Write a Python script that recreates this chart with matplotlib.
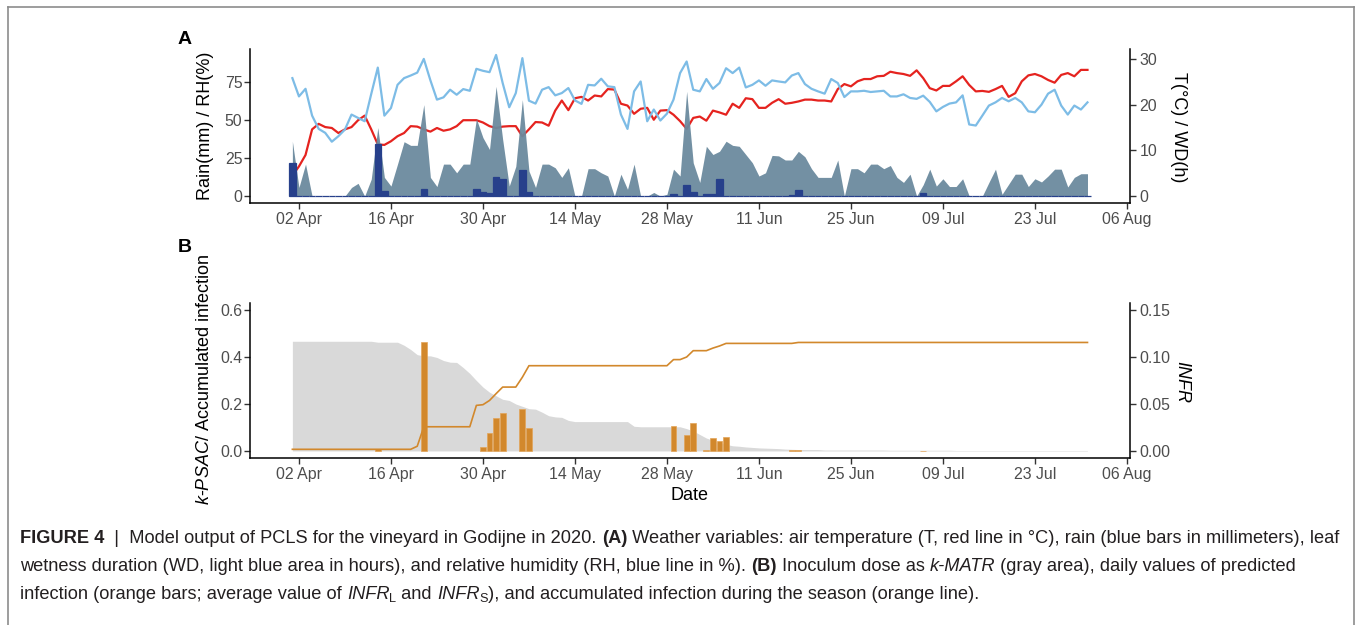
import numpy as np
import pandas as pd
import matplotlib
matplotlib.use("Agg")
import matplotlib.pyplot as plt
import matplotlib.dates as mdates
from matplotlib.lines import Line2D
from matplotlib.ticker import FixedLocator, FormatStrFormatter

plt.rcParams['font.family'] = ['Liberation Sans', 'DejaVu Sans']
plt.rcParams['mathtext.fontset'] = 'custom'
plt.rcParams['mathtext.rm'] = 'Liberation Sans'
plt.rcParams['mathtext.it'] = 'Liberation Sans:italic'
plt.rcParams['mathtext.bf'] = 'Liberation Sans:bold'

# ---------------- daily weather, Godijne 2020 (from 1 April) ----------------
rh = [77.4, 65.4, 70.4, 52.8, 44.1, 41.5, 35.7, 39.3, 43.7, 53.5,
      51.3, 49.1, 67.0, 84.3, 52.8, 57.8, 73.0, 77.4, 79.1, 81.0,
      90.0, 76.0, 63.3, 64.8, 69.8, 66.5, 70.2, 69.1, 83.5, 82.2,
      81.3, 92.6, 74.2, 58.3, 67.6, 90.5, 62.6, 60.7, 69.8, 71.5,
      66.1, 67.6, 70.9, 62.8, 60.5, 73.0, 72.6, 77.0, 72.0, 71.5,
      53.5, 44.1, 68.7, 75.2, 49.1, 56.8, 49.6, 54.1, 63.3, 80.7,
      88.3, 69.8, 68.7, 76.8, 70.4, 74.2, 83.9, 80.7, 84.3, 71.3,
      73.0, 75.9, 72.4, 75.9, 75.2, 74.6, 79.1, 80.7, 73.5, 70.4,
      68.7, 67.2, 76.8, 74.2, 65.0, 68.7, 68.7, 69.1, 68.3, 68.7,
      69.1, 65.4, 65.4, 66.8, 64.4, 63.8, 65.9, 61.8, 55.6, 58.5,
      60.7, 61.5, 66.1, 47.0, 46.3, 52.8, 59.4, 61.5, 64.4, 62.2,
      64.4, 61.5, 55.6, 55.0, 60.0, 67.2, 69.8, 59.4, 53.5, 59.4,
      56.8, 61.5]

temp = [4.5, 6.5, 9.0, 14.6, 15.8, 15.1, 14.9, 13.8, 14.6, 15.1,
        16.6, 17.6, 14.6, 11.3, 11.2, 12.0, 13.1, 13.8, 15.3, 15.2,
        14.6, 14.1, 14.9, 14.3, 14.6, 15.3, 16.6, 16.6, 16.6, 16.1,
        15.3, 14.9, 15.2, 15.3, 15.3, 13.1, 14.6, 16.2, 16.1, 15.4,
        18.7, 20.9, 18.8, 21.4, 21.7, 20.9, 22.0, 21.8, 23.4, 23.3,
        20.2, 19.8, 18.0, 19.1, 19.3, 16.7, 18.7, 18.8, 17.8, 16.4,
        14.7, 17.1, 17.4, 16.5, 18.7, 18.3, 17.8, 20.2, 19.3, 21.4,
        21.2, 19.3, 19.3, 20.4, 21.2, 20.2, 20.4, 20.7, 21.1, 21.1,
        20.9, 20.9, 20.7, 23.4, 24.5, 24.0, 25.1, 25.6, 25.6, 26.2,
        26.3, 27.2, 26.9, 26.7, 26.3, 27.5, 25.8, 23.6, 23.1, 24.1,
        24.1, 25.1, 26.2, 24.3, 22.9, 23.0, 22.8, 23.4, 24.1, 21.7,
        22.5, 25.1, 26.4, 26.7, 26.2, 25.4, 24.8, 26.5, 26.9, 26.2,
        27.6, 27.6]

wd = [12.0, 1.9, 7.0, 0.0, 0.0, 0.0, 0.0, 0.0, 0.0, 1.9,
      2.8, 0.0, 3.7, 15.0, 4.1, 2.2, 7.0, 11.9, 11.1, 11.1,
      20.0, 4.1, 2.1, 7.0, 7.0, 5.1, 7.0, 7.0, 16.9, 12.8,
      10.2, 24.0, 12.4, 2.2, 6.5, 21.1, 5.5, 1.9, 7.0, 7.0,
      6.2, 4.1, 6.2, 0.0, 0.0, 6.0, 6.0, 5.1, 4.4, 0.0,
      4.8, 1.5, 7.0, 0.0, 0.0, 0.8, 0.0, 0.4, 5.9, 4.4,
      22.9, 7.3, 3.0, 10.9, 9.1, 9.8, 12.0, 11.1, 10.9, 9.1,
      7.3, 4.4, 5.1, 8.9, 8.8, 7.9, 7.9, 9.8, 8.6, 6.0,
      4.1, 4.1, 4.1, 7.9, 0.0, 6.0, 6.0, 5.1, 7.0, 7.0,
      6.0, 6.7, 4.1, 3.0, 4.8, 0.0, 2.5, 5.9, 2.2, 3.8,
      2.1, 2.1, 3.8, 0.0, 0.0, 0.0, 3.0, 5.9, 0.4, 2.6,
      4.8, 4.8, 2.1, 3.8, 3.1, 4.4, 5.9, 5.9, 2.0, 4.1,
      4.9, 4.9]

# rain events: day index (0 = 1 April) and amount in mm
rain_day = [0, 13, 14, 20, 28, 29, 30, 31, 32, 35, 36, 58, 60, 61, 63, 64, 65, 76, 77, 96]
rain_mm = [22.0, 34.4, 3.5, 4.6, 4.6, 2.8, 2.2, 12.6, 11.0, 17.0, 2.8, 1.7, 7.0, 2.4,
           1.5, 1.2, 11.5, 0.6, 4.0, 1.8]

# ---------------- model output ----------------
kpsac = [0.467, 0.467, 0.467, 0.467, 0.467, 0.467, 0.467, 0.467, 0.467, 0.467,
         0.467, 0.467, 0.467, 0.463, 0.463, 0.463, 0.463, 0.450, 0.432, 0.410,
         0.405, 0.405, 0.398, 0.385, 0.378, 0.377, 0.355, 0.330, 0.300, 0.272,
         0.250, 0.235, 0.220, 0.215, 0.200, 0.190, 0.180, 0.178, 0.165, 0.150,
         0.145, 0.143, 0.130, 0.125, 0.125, 0.125, 0.125, 0.125, 0.125, 0.125,
         0.125, 0.125, 0.105, 0.103, 0.103, 0.103, 0.103, 0.103, 0.103, 0.103,
         0.095, 0.085, 0.070, 0.055, 0.045, 0.035, 0.028, 0.022, 0.020, 0.017,
         0.015, 0.013, 0.012, 0.011, 0.010, 0.008, 0.007, 0.006, 0.006, 0.006,
         0.006, 0.004, 0.004, 0.004, 0.004, 0.004, 0.004, 0.004, 0.004, 0.004,
         0.004, 0.003, 0.003, 0.003, 0.003, 0.003, 0.003, 0.003, 0.003, 0.003,
         0.003, 0.002, 0.002, 0.002, 0.002, 0.002, 0.002, 0.002, 0.002, 0.002,
         0.002, 0.002, 0.002, 0.002, 0.002, 0.002, 0.002, 0.002, 0.002, 0.002,
         0.002, 0.002]

acc_inf = [0.007, 0.007, 0.007, 0.007, 0.007, 0.007, 0.007, 0.007, 0.007, 0.007,
           0.007, 0.007, 0.007, 0.007, 0.007, 0.007, 0.007, 0.007, 0.007, 0.020,
           0.103, 0.103, 0.103, 0.103, 0.103, 0.103, 0.103, 0.103, 0.194, 0.197,
           0.215, 0.244, 0.272, 0.272, 0.272, 0.314, 0.363, 0.363, 0.363, 0.363,
           0.363, 0.363, 0.363, 0.363, 0.363, 0.363, 0.363, 0.363, 0.363, 0.363,
           0.363, 0.363, 0.363, 0.363, 0.363, 0.363, 0.363, 0.363, 0.389, 0.389,
           0.400, 0.427, 0.427, 0.427, 0.438, 0.447, 0.458, 0.458, 0.458, 0.458,
           0.458, 0.458, 0.458, 0.458, 0.458, 0.458, 0.458, 0.462, 0.462, 0.462,
           0.462, 0.462, 0.462, 0.462, 0.462, 0.462, 0.462, 0.462, 0.462, 0.462,
           0.462, 0.462, 0.462, 0.462, 0.462, 0.462, 0.462, 0.462, 0.462, 0.462,
           0.462, 0.462, 0.462, 0.462, 0.462, 0.462, 0.462, 0.462, 0.462, 0.462,
           0.462, 0.462, 0.462, 0.462, 0.462, 0.462, 0.462, 0.462, 0.462, 0.462,
           0.462, 0.462]

# daily predicted infection (INFR) on days with a non-zero value
infr_day = [13, 20, 29, 30, 31, 32, 35, 36, 58, 60, 61, 63, 64, 65, 66, 76, 77, 96]
infr_val = [0.002, 0.1165, 0.004, 0.0187, 0.0352, 0.0408, 0.0444, 0.024, 0.0267, 0.0169,
            0.0299, 0.0012, 0.0134, 0.0106, 0.0144, 0.0014, 0.0014, 0.0004]

date_ticks = ['2020-04-02', '2020-04-16', '2020-04-30', '2020-05-14', '2020-05-28',
              '2020-06-11', '2020-06-25', '2020-07-09', '2020-07-23', '2020-08-06']

# ---------------- colours ----------------
C_TEMP = '#E5231F'
C_RH = '#7DBCE6'
C_WD = '#6B8A9E'
C_RAIN = '#27408B'
C_ORANGE = '#D2882C'
C_GREY = '#D9D9D9'
C_TICKLAB = '#4D4D4D'

W, H = 1356, 625
fig = plt.figure(figsize=(W / 100, H / 100), dpi=100)

start = pd.Timestamp('2020-04-01')
dates = pd.date_range(start, periods=len(rh), freq='D')
x = mdates.date2num(dates)
x0 = mdates.date2num(start)
xlim = (x0 - 6.45, x0 + 127.47)

rain = np.zeros(len(rh))
rain[rain_day] = rain_mm
infr = np.zeros(len(rh))
infr[infr_day] = infr_val

TEMP_SCALE = 3.0   # right axis of panel A = left / 3
INFR_SCALE = 4.0   # right axis of panel B = left / 4


def px_axes(left, top, right, bottom):
    return fig.add_axes([left / W, 1 - bottom / H, (right - left) / W, (bottom - top) / H])


def style_axes(ax):
    for s in ('top', 'right'):
        ax.spines[s].set_visible(False)
    for s in ('left', 'bottom'):
        ax.spines[s].set_linewidth(1.1)
        ax.spines[s].set_color('black')
    ax.set_xlim(*xlim)
    ax.xaxis.set_major_locator(FixedLocator(mdates.date2num(pd.to_datetime(date_ticks))))
    ax.xaxis.set_major_formatter(mdates.DateFormatter('%d %b'))
    ax.tick_params(axis='x', length=4, width=1.0, color='#333333', labelsize=11.4,
                   labelcolor=C_TICKLAB, pad=2.5)
    ax.tick_params(axis='y', length=4, width=1.0, color='#333333', labelsize=11.4,
                   labelcolor=C_TICKLAB, pad=1.5)


def style_secondary(sec):
    sec.spines['right'].set_linewidth(1.1)
    sec.spines['right'].set_color('black')
    sec.tick_params(axis='y', length=4, width=1.0, color='#333333', labelsize=11.4,
                    labelcolor=C_TICKLAB, pad=3.0)


# ---------------- panel A: weather ----------------
axA = px_axes(250, 49, 1130, 203)
style_axes(axA)
axA.set_ylim(-4.5, 96.5)
axA.set_yticks([0, 25, 50, 75])

axA.plot(x, np.array(temp) * TEMP_SCALE, color=C_TEMP, lw=1.6, zorder=2)
axA.plot(x, rh, color=C_RH, lw=1.6, zorder=2)
axA.fill_between(x, 0, np.array(wd) * TEMP_SCALE, color=C_WD, alpha=0.95, lw=0, zorder=3)
axA.bar(x, rain, width=1.0, color=C_RAIN, edgecolor=C_RAIN, linewidth=0.9, zorder=4)

secA = axA.secondary_yaxis('right', functions=(lambda v: v / TEMP_SCALE,
                                                lambda v: v * TEMP_SCALE))
secA.set_yticks([0, 10, 20, 30])
style_secondary(secA)

# ---------------- panel B: model output ----------------
axB = px_axes(250, 303, 1130, 458)
style_axes(axB)
axB.set_ylim(-0.03, 0.63)
axB.set_yticks([0.0, 0.2, 0.4, 0.6])
axB.yaxis.set_major_formatter(FormatStrFormatter('%.1f'))

axB.fill_between(x, 0, kpsac, color=C_GREY, lw=0, zorder=1)
mask = infr > 0
axB.bar(x[mask], infr[mask] * INFR_SCALE, width=0.9, color=C_ORANGE,
        edgecolor='#E3A458', linewidth=0.5, zorder=2)
axB.plot(x, acc_inf, color=C_ORANGE, lw=1.2, zorder=3)

secB = axB.secondary_yaxis('right', functions=(lambda v: v / INFR_SCALE,
                                                lambda v: v * INFR_SCALE))
secB.set_yticks([0.0, 0.05, 0.10, 0.15])
secB.yaxis.set_major_formatter(FormatStrFormatter('%.2f'))
style_secondary(secB)


def ftext(px, py, s, **kw):
    return fig.text(px / W, 1 - py / H, s, **kw)


# axis titles and panel tags
ftext(205, 126, 'Rain(mm) / RH(%)', rotation=90, ha='center', va='center', fontsize=13)
ftext(1178, 127, 'T(°C) / WD(h)', rotation=270, ha='center', va='center', fontsize=13)
ftext(204, 380, r'$\mathit{k}$-$\mathit{PSAC}$/ Accumulated infection', rotation=90,
      ha='center', va='center', fontsize=13)
ftext(1182, 382, 'INFR', rotation=270, ha='center', va='center', fontsize=13,
      style='italic')
ftext(690, 495, 'Date', ha='center', va='center', fontsize=13)
ftext(185, 40, 'A', ha='center', va='center', fontsize=14, weight='bold')
ftext(185, 248, 'B', ha='center', va='center', fontsize=14, weight='bold')

# ---------------- caption ----------------
renderer = fig.canvas.get_renderer()


def run_width(s, size, weight, style):
    a = ftext(0, 0, '|' + s + '|', fontsize=size, weight=weight, style=style)
    b = ftext(0, 0, '||', fontsize=size, weight=weight, style=style)
    w = a.get_window_extent(renderer).width - b.get_window_extent(renderer).width
    a.remove()
    b.remove()
    return w


def draw_runs(runs, px, baseline, size, color='#231F20'):
    cx = px
    for s, kind in runs:
        weight = 'bold' if kind == 'b' else 'normal'
        style = 'italic' if kind == 'i' else 'normal'
        fs = size * 0.7 if kind == 'sub' else size
        dy = 3 if kind == 'sub' else 0
        ftext(cx, baseline + dy, s, fontsize=fs, weight=weight, style=style,
              ha='left', va='baseline', color=color)
        cx += run_width(s, fs, weight, style)
    return cx - px


cap1 = [('FIGURE 4', 'b'), ('  |  Model output of PCLS for the vineyard in Godijne in 2020. ', 'n'),
        ('(A)', 'b'),
        (' Weather variables: air temperature (T, red line in °C), rain (blue bars in millimeters), leaf', 'n')]
cap2 = [('wetness duration (WD, light blue area in hours), and relative humidity (RH, blue line in %). ', 'n'),
        ('(B)', 'b'), (' Inoculum dose as ', 'n'), ('k-MATR', 'i'),
        (' (gray area), daily values of predicted', 'n')]
cap3 = [('infection (orange bars; average value of ', 'n'), ('INFR', 'i'), ('L', 'sub'),
        (' and ', 'n'), ('INFR', 'i'), ('S', 'sub'),
        ('), and accumulated infection during the season (orange line).', 'n')]

base_size = 11.0
w1 = sum(run_width(s, base_size * (0.7 if k == 'sub' else 1),
                   'bold' if k == 'b' else 'normal', 'italic' if k == 'i' else 'normal')
         for s, k in cap1)
cap_size = base_size * 1317.0 / w1
draw_runs(cap1, 20, 543, cap_size)
draw_runs(cap2, 20, 571, cap_size)
draw_runs(cap3, 20, 599, cap_size)

# page frame
frame = dict(color='#8C8C8C', lw=1.2, transform=fig.transFigure)
fig.add_artist(Line2D([8 / W, 8 / W], [0, 1 - 7 / H], **frame))
fig.add_artist(Line2D([1354 / W, 1354 / W], [0, 1 - 7 / H], **frame))
fig.add_artist(Line2D([8 / W, 1354 / W], [1 - 7 / H, 1 - 7 / H], **frame))

fig.savefig('out.png', dpi=100)
